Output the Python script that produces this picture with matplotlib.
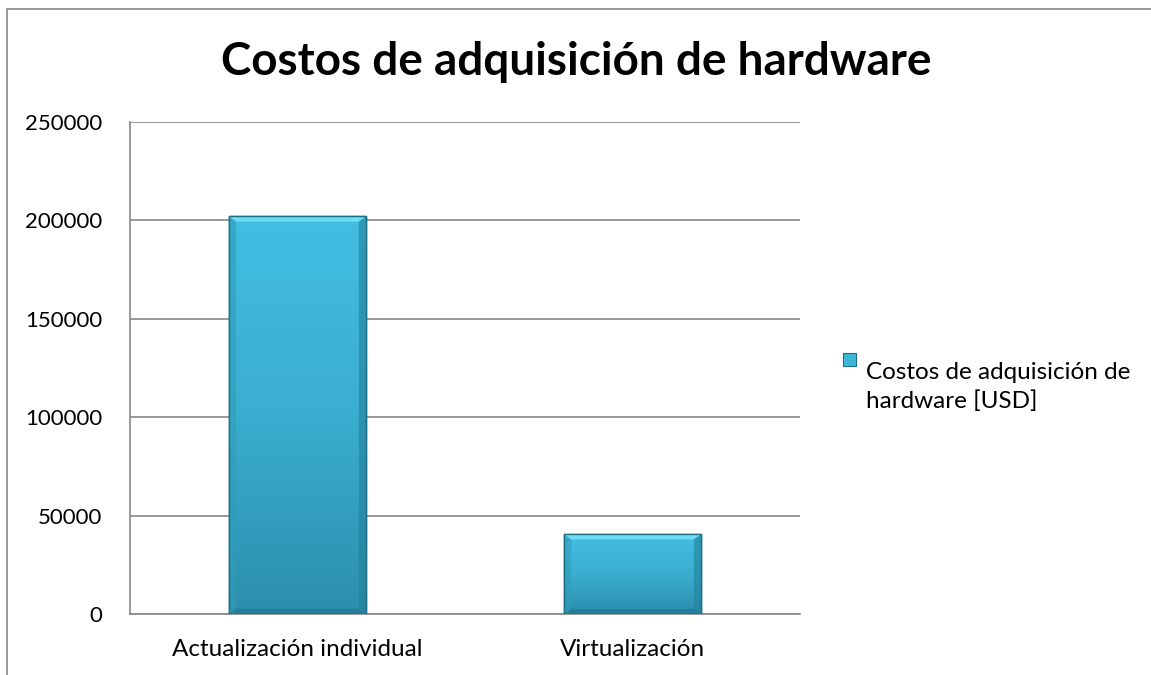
import matplotlib.pyplot as plt
import numpy as np
from matplotlib.patches import Rectangle, Polygon

# Chart data
categorias = ['Actualización individual', 'Virtualización']
costos_usd = [202000, 40500]
serie = 'Costos de adquisición de\nhardware [USD]'
y_ticks = [0, 50000, 100000, 150000, 200000, 250000]

plt.rcParams['font.family'] = ['Lato', 'DejaVu Sans']

fig = plt.figure(figsize=(11.51, 6.75), dpi=100)
ax = fig.add_axes([130 / 1151, 61 / 675, 670 / 1151, 492 / 675])

# outer chart border (only left and top visible in the crop)
fig.patches.append(Rectangle((7 / 1151, -0.1), 1.2, 1 - 9 / 675 + 0.1,
                             transform=fig.transFigure, fill=False,
                             edgecolor='#878787', linewidth=1.2))

x = np.arange(len(categorias))
bars = ax.bar(x, costos_usd, width=0.41, color='#3DB6D8',
              edgecolor='#1E6E84', linewidth=1.0, zorder=3)

# vertical gradient inside each bar, plus a small bevel at the edges
grad = np.linspace(0, 1, 256).reshape(-1, 1)
cmap = plt.matplotlib.colors.LinearSegmentedColormap.from_list(
    'barra', ['#2C8EAC', '#3AAED0', '#42BEE2'])
bev_x = 0.022
bev_y = 2600
for b in bars:
    x0, w, h = b.get_x(), b.get_width(), b.get_height()
    im = ax.imshow(grad, extent=(x0, x0 + w, 0, h), origin='lower',
                   cmap=cmap, aspect='auto', zorder=3.5)
    im.set_clip_path(b)
    x1 = x0 + w
    ax.add_patch(Polygon([(x0, h), (x1, h), (x1 - bev_x, h - bev_y),
                          (x0 + bev_x, h - bev_y)], closed=True,
                         facecolor='#6EDDF4', edgecolor='none', zorder=3.6))
    ax.add_patch(Polygon([(x0, 0), (x0, h), (x0 + bev_x, h - bev_y),
                          (x0 + bev_x, bev_y)], closed=True,
                         facecolor='#2F9CBC', alpha=0.6, edgecolor='none', zorder=3.6))
    ax.add_patch(Polygon([(x1, 0), (x1, h), (x1 - bev_x, h - bev_y),
                          (x1 - bev_x, bev_y)], closed=True,
                         facecolor='#23809C', alpha=0.6, edgecolor='none', zorder=3.6))
    ax.add_patch(Polygon([(x0, 0), (x1, 0), (x1 - bev_x, bev_y),
                          (x0 + bev_x, bev_y)], closed=True,
                         facecolor='#237E99', edgecolor='none', zorder=3.6))
    ax.add_patch(Rectangle((x0, 0), w, h, fill=False,
                           edgecolor='#1E6E84', linewidth=1.0, zorder=4))

ax.set_xlim(-0.5, 1.5)
ax.set_ylim(0, 250000)
ax.set_yticks(y_ticks)
ax.set_yticklabels([str(v) for v in y_ticks])
ax.set_xticks(x)
ax.set_xticklabels(categorias, fontsize=17.5)
ax.tick_params(axis='both', length=0, colors='black')
ax.tick_params(axis='y', pad=20, labelsize=16)
ax.tick_params(axis='x', pad=18)
ax.yaxis.grid(True, color='#868686', linewidth=1.2, zorder=0)
ax.set_axisbelow(True)
for s in ['top', 'right']:
    ax.spines[s].set_visible(False)
for s in ['left', 'bottom']:
    ax.spines[s].set_color('#868686')
    ax.spines[s].set_linewidth(1.2)

fig.text(576 / 1151, 1 - 62 / 675, 'Costos de adquisición de hardware',
         ha='center', va='center', fontsize=33, fontweight='bold')

# legend
fig.patches.append(Rectangle((843 / 1151, 1 - 366 / 675), 13 / 1151, 13 / 675,
                             transform=fig.transFigure, facecolor='#3DB6D8',
                             edgecolor='#1E6E84', linewidth=0.8))
fig.text(866 / 1151, 1 - 387 / 675, serie, ha='left', va='center',
         fontsize=17.5, linespacing=1.4)

fig.savefig('out.png', dpi=100)
